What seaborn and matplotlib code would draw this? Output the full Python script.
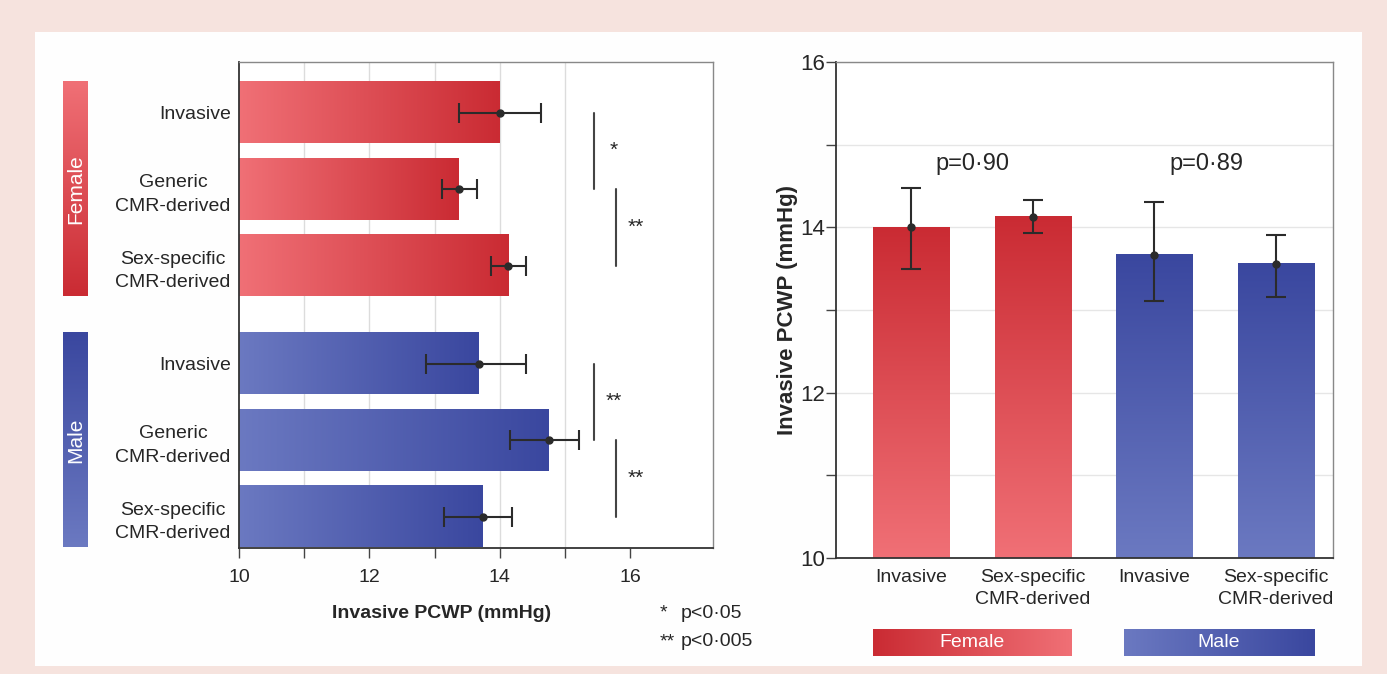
import numpy as np
import pandas as pd
import matplotlib
matplotlib.use("Agg")
import matplotlib.pyplot as plt
import seaborn as sns
from matplotlib.colors import LinearSegmentedColormap
from matplotlib.patches import Rectangle
from matplotlib.ticker import FixedLocator

# ---------------- data ----------------
left_methods = ["Invasive", "Generic\nCMR-derived", "Sex-specific\nCMR-derived"]
female_left_mean = [14.00, 13.37, 14.13]
female_left_lo = [13.37, 13.11, 13.87]
female_left_hi = [14.63, 13.65, 14.40]
male_left_mean = [13.68, 14.75, 13.74]
male_left_lo = [12.87, 14.16, 13.15]
male_left_hi = [14.40, 15.21, 14.19]
sig_female = ["*", "**"]
sig_male = ["**", "**"]
sig_legend_marks = ["*", "**"]
sig_legend_text = ["p<0·05", "p<0·005"]
left_xticks = [10, 12, 14, 16]
left_xminor = [11, 13, 15]

right_labels = ["Invasive", "Sex-specific\nCMR-derived", "Invasive", "Sex-specific\nCMR-derived"]
right_sex = ["Female", "Female", "Male", "Male"]
right_mean = [14.00, 14.13, 13.67, 13.56]
right_lo = [13.50, 13.93, 13.11, 13.16]
right_hi = [14.48, 14.33, 14.31, 13.91]
p_values = ["p=0·90", "p=0·89"]
right_yticks = [10, 12, 14, 16]
right_yminor = [11, 13, 15]
sexes = ["Female", "Male"]

# ---------------- style ----------------
sns.set_theme(style="white")
plt.rcParams["font.family"] = ["Liberation Sans", "DejaVu Sans"]

F_LIGHT, F_DARK = "#f07076", "#ca2b33"
M_LIGHT, M_DARK = "#6b79c1", "#3a479f"
TXT = "#262626"
ERR = "#2b2b2b"

W, H = 1387, 674
fig = plt.figure(figsize=(W / 100, H / 100), dpi=100)
fig.patch.set_facecolor("#f6e3de")
fig.patches.append(Rectangle((35 / W, 1 - 666 / H), (1362 - 35) / W, (666 - 32) / H,
                             transform=fig.transFigure, facecolor="#fefefe",
                             edgecolor="none", zorder=-5))

axL = fig.add_axes([239 / W, 1 - 548 / H, 474 / W, 486 / H])
axR = fig.add_axes([836 / W, 1 - 558 / H, 497 / W, 496 / H])


def grad_img(ax, extent, c0, c1, horizontal=True, clip=True, z=2):
    cmap = LinearSegmentedColormap.from_list("g", [c0, c1])
    g = np.linspace(0, 1, 256)
    arr = g.reshape(1, -1) if horizontal else g.reshape(-1, 1)
    im = ax.imshow(arr, cmap=cmap, aspect="auto", extent=extent, origin="lower",
                   interpolation="bilinear", zorder=z)
    im.set_clip_on(clip)
    return im


# ---------------- left panel ----------------
group_gap = 0.28
rows = []
for g, (sex, mm, lo, hi) in enumerate([("Female", female_left_mean, female_left_lo, female_left_hi),
                                        ("Male", male_left_mean, male_left_lo, male_left_hi)]):
    for i, m in enumerate(left_methods):
        rows.append(dict(sex=sex, method=m, mean=mm[i], lo=lo[i], hi=hi[i],
                         pos=g * (len(left_methods) + group_gap) + i))
dfL = pd.DataFrame(rows)

sns.barplot(data=dfL, x="mean", y="pos", orient="h", native_scale=True, width=0.8,
            color="gray", errorbar=None, ax=axL)

xmin, xmax = 10, 17.27
for p in list(axL.patches):
    yc = p.get_y() + p.get_height() / 2
    r = dfL.iloc[(dfL["pos"] - yc).abs().argmin()]
    c0, c1 = (F_LIGHT, F_DARK) if r["sex"] == "Female" else (M_LIGHT, M_DARK)
    grad_img(axL, (xmin, p.get_x() + p.get_width(), p.get_y(), p.get_y() + p.get_height()), c0, c1)
    p.set_visible(False)

axL.errorbar(dfL["mean"], dfL["pos"], xerr=[dfL["mean"] - dfL["lo"], dfL["hi"] - dfL["mean"]],
             fmt="o", color=ERR, ms=5, capsize=7, elinewidth=1.5, capthick=1.5, zorder=5)

for v in np.arange(11, 16):
    axL.axvline(v, color="#dcdcdc", lw=1, zorder=0.5)

# significance brackets
for g, marks in enumerate([sig_female, sig_male]):
    base = g * (len(left_methods) + group_gap)
    for k, mk in enumerate(marks):
        xl = 15.45 + 0.33 * k
        axL.plot([xl, xl], [base + k, base + k + 1], color="#444444", lw=1.5, zorder=3, clip_on=False)
        axL.text(xl + 0.3, base + k + 0.5, mk, fontsize=15, color=TXT, ha="center", va="center")

# side group labels
for g, sex in enumerate(sexes):
    base = g * (len(left_methods) + group_gap)
    y_top, y_bot = base - 0.4, base + len(left_methods) - 1 + 0.4
    if sex == "Female":
        c0, c1 = F_LIGHT, F_DARK
    else:
        c0, c1 = M_DARK, M_LIGHT
    grad_img(axL, (7.30, 7.68, y_top, y_bot), c0, c1, horizontal=False, clip=False)
    axL.text(7.49, (y_top + y_bot) / 2, sex, rotation=90, color="white", fontsize=15,
             ha="center", va="center", clip_on=False)

axL.set_xlim(xmin, xmax)
axL.set_ylim(5.69, -0.66)
axL.set_yticks(dfL["pos"])
axL.set_yticklabels(dfL["method"], fontsize=14, color=TXT, ha="right", multialignment="center",
                    linespacing=1.5)
axL.tick_params(axis="y", length=0, pad=6)
axL.xaxis.set_major_locator(FixedLocator(left_xticks))
axL.xaxis.set_minor_locator(FixedLocator(left_xminor))
axL.set_xticklabels([str(t) for t in left_xticks], fontsize=14, color=TXT)
axL.tick_params(axis="x", which="both", direction="out", length=7, width=1, color="#444444",
                bottom=True, pad=8)
axL.set_xlabel("Invasive PCWP (mmHg)", fontsize=14, fontweight="bold", color=TXT)
axL.xaxis.set_label_coords(0.428, -0.117)
axL.set_ylabel("")
axL.set_facecolor("white")
for s in ["left", "bottom"]:
    axL.spines[s].set_color("#333333")
    axL.spines[s].set_linewidth(1.3)
for s in ["top", "right"]:
    axL.spines[s].set_color("#888888")
    axL.spines[s].set_linewidth(1.0)

for k, (mk, tx) in enumerate(zip(sig_legend_marks, sig_legend_text)):
    yy = 1 - (613 + 29 * k) / H
    fig.text(660 / W, yy, mk, fontsize=14, color=TXT, ha="left", va="center")
    fig.text(681 / W, yy, tx, fontsize=14, color=TXT, ha="left", va="center")

# ---------------- right panel ----------------
dfR = pd.DataFrame(dict(label=right_labels, sex=right_sex, mean=right_mean, lo=right_lo,
                        hi=right_hi, pos=np.arange(len(right_labels))))
sns.barplot(data=dfR, x="pos", y="mean", native_scale=True, width=0.63, color="gray",
            errorbar=None, ax=axR)
ymin = 10
for p in list(axR.patches):
    xc = p.get_x() + p.get_width() / 2
    r = dfR.iloc[(dfR["pos"] - xc).abs().argmin()]
    c0, c1 = (F_LIGHT, F_DARK) if r["sex"] == "Female" else (M_LIGHT, M_DARK)
    grad_img(axR, (p.get_x(), p.get_x() + p.get_width(), ymin, p.get_height()), c0, c1,
             horizontal=False)
    p.set_visible(False)

axR.errorbar(dfR["pos"], dfR["mean"], yerr=[dfR["mean"] - dfR["lo"], dfR["hi"] - dfR["mean"]],
             fmt="o", color=ERR, ms=5, capsize=7, elinewidth=1.5, capthick=1.5, zorder=5)

for k, pv in enumerate(p_values):
    axR.text(2 * k + 0.5 - 0.07 * k, 14.77, pv, fontsize=17, color=TXT, ha="center", va="center")

# sex legend bars under the axis
for g, sex in enumerate(sexes):
    sub = dfR[dfR["sex"] == sex]
    x0 = sub["pos"].min() - 0.315
    x1 = sub["pos"].max() + 0.315
    if sex == "Female":
        c0, c1 = F_DARK, F_LIGHT
    else:
        x0 += 0.065
        c0, c1 = M_LIGHT, M_DARK
    grad_img(axR, (x0, x1, 8.82, 9.14), c0, c1, horizontal=True, clip=False)
    axR.text((x0 + x1) / 2, 8.98, sex, color="white", fontsize=14, ha="center", va="center",
             clip_on=False)

axR.set_xlim(-0.62, 3.47)
axR.set_ylim(10, 16)
axR.set_xticks(dfR["pos"])
axR.set_xticklabels(dfR["label"], fontsize=14, color=TXT, multialignment="center", linespacing=1.4)
axR.tick_params(axis="x", length=0, pad=8)
axR.yaxis.set_major_locator(FixedLocator(right_yticks))
axR.yaxis.set_minor_locator(FixedLocator(right_yminor))
axR.set_yticklabels([str(t) for t in right_yticks], fontsize=16, color=TXT)
axR.tick_params(axis="y", which="both", direction="out", length=7, width=1, color="#444444",
                left=True, pad=0.5)
axR.yaxis.grid(True, which="both", color="#e6e6e6", lw=1, zorder=0)
axR.set_axisbelow(True)
axR.set_xlabel("")
axR.set_ylabel("Invasive PCWP (mmHg)", fontsize=16, fontweight="bold", color=TXT, labelpad=2)
axR.set_facecolor("white")
for s in ["left", "bottom"]:
    axR.spines[s].set_color("#333333")
    axR.spines[s].set_linewidth(1.3)
for s in ["top", "right"]:
    axR.spines[s].set_color("#888888")
    axR.spines[s].set_linewidth(1.0)

fig.savefig("out.png", dpi=100, facecolor=fig.get_facecolor())
